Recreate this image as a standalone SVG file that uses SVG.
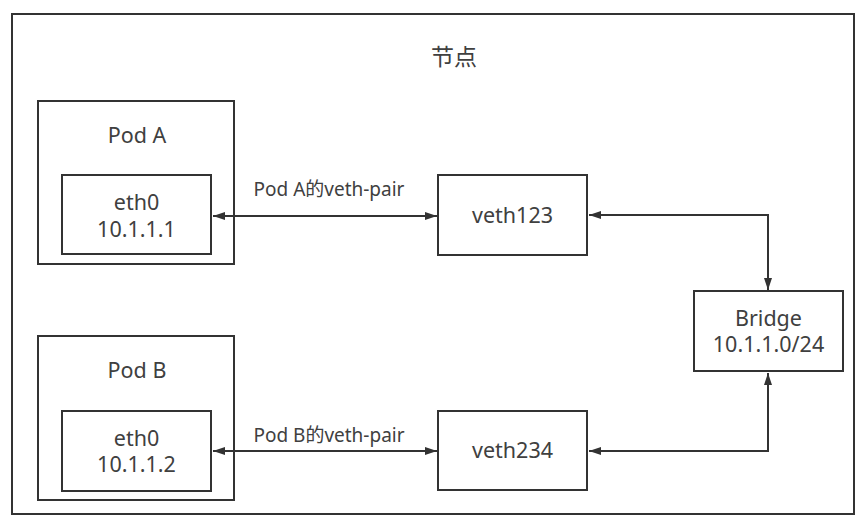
<svg xmlns="http://www.w3.org/2000/svg" width="865" height="529" viewBox="0 0 865 529">
<style>
.box{fill:#fff;stroke:#333;stroke-width:2}
.t{font-family:"Noto Sans","Noto Sans CJK SC",sans-serif;font-size:21.5px;fill:#404040;text-anchor:middle}
.title{font-family:"Noto Sans CJK SC","Noto Sans",sans-serif;font-size:23px;fill:#404040;text-anchor:middle}
.lbl{font-family:"Noto Sans","Noto Sans CJK SC",sans-serif;font-size:19px;fill:#404040;text-anchor:middle}
.c{fill:none;stroke:#333;stroke-width:2}
</style>
<defs>
<marker id="ah" viewBox="0 0 12 10" refX="12" refY="5" markerWidth="12" markerHeight="10" markerUnits="userSpaceOnUse" orient="auto-start-reverse">
<path d="M0,1 L12,5 L0,9 Z" fill="#333"/>
</marker>
</defs>
<rect width="865" height="529" fill="#fff"/>
<g id="node-frame">
<rect class="box" x="12" y="14" width="842" height="500"/>
<text class="title" x="454" y="65">节点</text>
</g>
<g id="pod-a">
<rect class="box" x="38" y="101" width="196" height="163"/>
<text class="t" x="137" y="143">Pod A</text>
</g>
<g id="eth0-a">
<rect class="box" x="62" y="175" width="149" height="79"/>
<text class="t" x="136.5" y="210">eth0</text>
<text class="t" x="136.5" y="237">10.1.1.1</text>
</g>
<g id="pod-b">
<rect class="box" x="38" y="336" width="196" height="164"/>
<text class="t" x="137" y="378">Pod B</text>
</g>
<g id="eth0-b">
<rect class="box" x="62" y="411" width="149" height="80"/>
<text class="t" x="136.5" y="446">eth0</text>
<text class="t" x="136.5" y="472">10.1.1.2</text>
</g>
<g id="veth123">
<rect class="box" x="438" y="175" width="149" height="80"/>
<text class="t" x="512.5" y="223">veth123</text>
</g>
<g id="veth234">
<rect class="box" x="438" y="411" width="149" height="79"/>
<text class="t" x="512.5" y="458">veth234</text>
</g>
<g id="bridge">
<rect class="box" x="694" y="291" width="149" height="80"/>
<text class="t" x="768.5" y="326">Bridge</text>
<text class="t" x="768.5" y="352">10.1.1.0/24</text>
</g>
<g id="connectors">
<path class="c" d="M213,216 L437,216" marker-start="url(#ah)" marker-end="url(#ah)"/>
<path class="c" d="M213,451 L437,451" marker-start="url(#ah)" marker-end="url(#ah)"/>
<path class="c" d="M589,215 L768,215 L768,290" marker-start="url(#ah)" marker-end="url(#ah)"/>
<path class="c" d="M589,451 L768,451 L768,373" marker-start="url(#ah)" marker-end="url(#ah)"/>
<text class="lbl" x="329" y="196">Pod A的veth-pair</text>
<text class="lbl" x="329" y="442">Pod B的veth-pair</text>
</g>
</svg>
